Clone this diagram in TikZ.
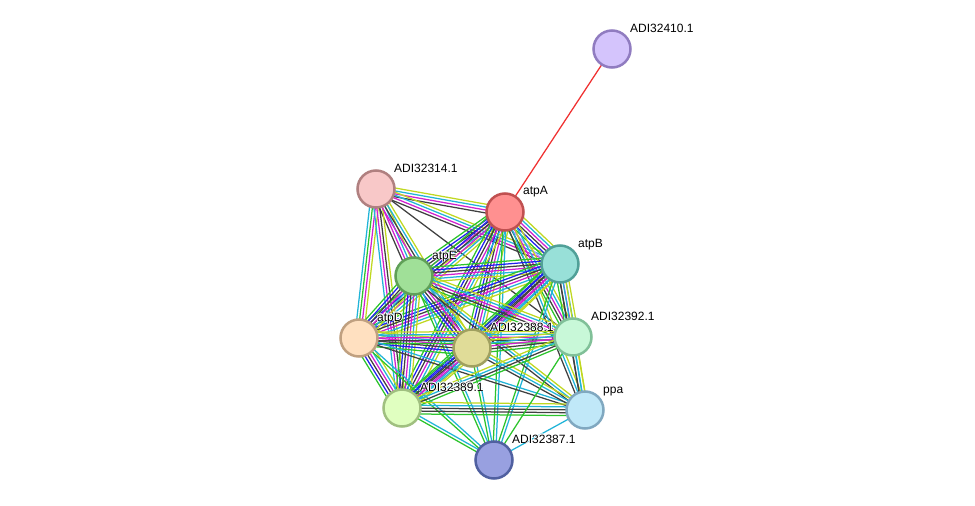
\documentclass[tikz,border=0pt]{standalone}
\usepackage{fontspec}
\setmainfont{Liberation Sans}
\usetikzlibrary{calc}
\pgfdeclarelayer{bg}
\pgfsetlayers{bg,main}
\definecolor{sg}{HTML}{2CC42C}
\definecolor{sb}{HTML}{2020F0}
\definecolor{sk}{HTML}{404040}
\definecolor{sm}{HTML}{D020D0}
\definecolor{sc}{HTML}{20B4D8}
\definecolor{sy}{HTML}{C0D820}
\definecolor{sr}{HTML}{F03030}
\definecolor{sl}{HTML}{A8A8FF}
\newcommand{\medge}[3]{%
  \foreach \c [count=\n] in {#3} {\xdef\mytotal{\n}}%
  \foreach \c [count=\i] in {#3} {%
    \pgfmathsetmacro\edgoff{(\i-(\mytotal+1)/2)*2.9}%
    \draw[line width=1.25pt,\c] ($(#1)!\edgoff pt!90:(#2)$) -- ($(#2)!\edgoff pt!-90:(#1)$);
  }%
}
\newcommand{\hlabel}[3]{%
  \foreach \hx/\hy in {-0.9/0,0.9/0,0/-0.9,0/0.9,-0.65/-0.65,0.65/-0.65,-0.65/0.65,0.65/0.65} {%
    \node[lbl,text=white] at ($(#2)+(\hx,\hy)$) {#3};
  }%
  \node[lbl] (#1) at (#2) {#3};
}
\tikzset{
  prot/.style={circle,minimum size=37pt,inner sep=0pt,line width=2.5pt},
  lbl/.style={anchor=base west,inner sep=0pt,font=\fontsize{12}{14}\selectfont,text=black}
}
\begin{document}
\begin{tikzpicture}[x=1pt,y=-1pt]
\useasboundingbox (0,0) rectangle (975,506);
% nodes
\node[prot,fill={rgb,255:red,212;green,196;blue,252},draw={rgb,255:red,144;green,124;blue,192}] (C10) at (612,49) {};
\node[prot,fill={rgb,255:red,255;green,144;blue,144},draw={rgb,255:red,192;green,80;blue,80}] (A) at (505,212) {};
\node[prot,fill={rgb,255:red,248;green,200;blue,200},draw={rgb,255:red,176;green,128;blue,128}] (C14) at (376,189) {};
\node[prot,fill={rgb,255:red,152;green,224;blue,216},draw={rgb,255:red,80;green,160;blue,152}] (B) at (560,264) {};
\node[prot,fill={rgb,255:red,160;green,224;blue,152},draw={rgb,255:red,96;green,160;blue,88}] (E) at (414,276) {};
\node[prot,fill={rgb,255:red,200;green,248;blue,216},draw={rgb,255:red,128;green,192;blue,152}] (C92) at (573,337) {};
\node[prot,fill={rgb,255:red,255;green,224;blue,192},draw={rgb,255:red,192;green,160;blue,128}] (D) at (359,338) {};
\node[prot,fill={rgb,255:red,224;green,220;blue,152},draw={rgb,255:red,160;green,160;blue,96}] (C88) at (472,348) {};
\node[prot,fill={rgb,255:red,224;green,255;blue,192},draw={rgb,255:red,160;green,192;blue,128}] (C89) at (402,408) {};
\node[prot,fill={rgb,255:red,192;green,232;blue,248},draw={rgb,255:red,128;green,168;blue,192}] (P) at (585,410) {};
\node[prot,fill={rgb,255:red,152;green,160;blue,224},draw={rgb,255:red,80;green,96;blue,160}] (C87) at (494,460) {};
% labels
\hlabel{lC10}{630,32}{ADI32410.1}
\hlabel{lA}{523,194.5}{atpA}
\hlabel{lC14}{394,172}{ADI32314.1}
\hlabel{lB}{578,247}{atpB}
\hlabel{lE}{432,259}{atpE}
\hlabel{lC92}{591,320}{ADI32392.1}
\hlabel{lD}{377,321}{atpD}
\hlabel{lC88}{490,331}{ADI32388.1}
\hlabel{lC89}{420,391}{ADI32389.1}
\hlabel{lP}{603,393}{ppa}
\hlabel{lC87}{512,443}{ADI32387.1}
% edges
\begin{pgfonlayer}{bg}
\fill[white] (0,0) rectangle (975,506);
\medge{A}{C10}{sr}
\medge{C14}{A}{sk,sm,sc,sy}
\medge{C14}{B}{sk,sm,sc,sy}
\medge{C14}{E}{sk,sm,sc,sy}
\medge{C14}{D}{sc,sg,sm,sy}
\medge{C14}{C89}{sc,sm,sk,sy}
\medge{C14}{C88}{sm,sk,sc,sy}
\medge{C14}{C92}{sk}
\medge{A}{B}{sl,sg,sb,sk,sm,sc,sy}
\medge{A}{E}{sg,sb,sk,sm,sc,sy}
\medge{A}{D}{sg,sb,sk,sm,sc,sy}
\medge{A}{C88}{sg,sb,sk,sm,sc,sy}
\medge{A}{C89}{sg,sb,sk,sm,sc,sy}
\medge{A}{C92}{sg,sk,sm,sc,sy}
\medge{A}{P}{sk,sc,sy}
\medge{A}{C87}{sg,sc}
\medge{B}{E}{sg,sb,sk,sm,sc,sy}
\medge{B}{D}{sg,sb,sk,sm,sc,sy}
\medge{B}{C88}{sg,sb,sk,sm,sc,sy}
\medge{B}{C89}{sg,sb,sk,sm,sc,sy}
\medge{B}{C92}{sg,sk,sm,sc,sy}
\medge{B}{P}{sk,sc,sy}
\medge{B}{C87}{sg,sc}
\medge{E}{D}{sg,sb,sk,sm,sc,sy}
\medge{E}{C88}{sg,sb,sk,sm,sc,sy}
\medge{E}{C89}{sg,sb,sk,sm,sc,sy}
\medge{E}{C92}{sg,sk,sm,sc,sy}
\medge{E}{P}{sk,sc,sy}
\medge{E}{C87}{sg,sc}
\medge{D}{C88}{sg,sb,sk,sm,sc,sy}
\medge{D}{C89}{sg,sb,sk,sm,sc,sy}
\medge{D}{C92}{sg,sk,sm,sc,sy}
\medge{D}{P}{sk,sc}
\medge{D}{C87}{sg,sc}
\medge{C88}{C89}{sg,sb,sk,sm,sc,sy}
\medge{C88}{C92}{sg,sk,sm,sc,sy}
\medge{C88}{P}{sk,sc,sy}
\medge{C88}{C87}{sg,sc}
\medge{C89}{C92}{sg,sk,sc,sy}
\medge{C89}{P}{sg,sk,sk,sc,sy}
\medge{C89}{C87}{sg,sc}
\medge{C92}{P}{sk,sc,sy}
\medge{C92}{C87}{sg}
\medge{P}{C87}{sc}
\end{pgfonlayer}
\end{tikzpicture}
\end{document}
